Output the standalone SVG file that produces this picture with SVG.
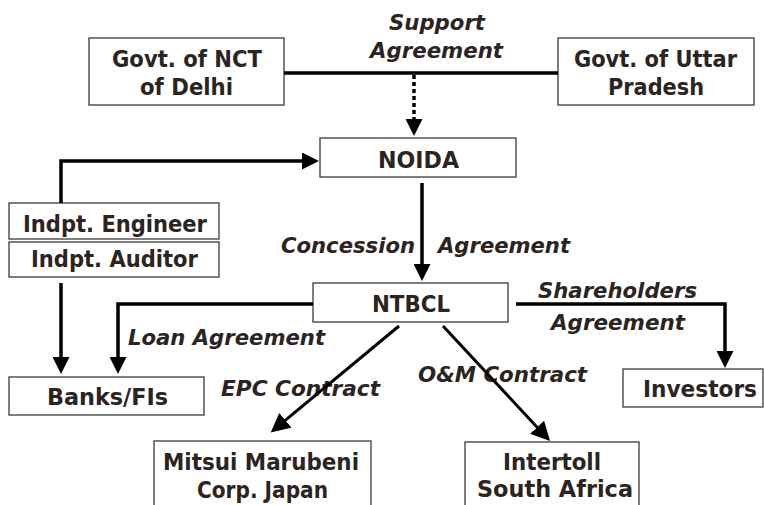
<svg xmlns="http://www.w3.org/2000/svg" width="764" height="505" viewBox="0 0 764 505">
  <style>
    .box { fill: #ffffff; stroke: #3a3a3a; stroke-width: 1.3; }
    .node { font-family: "DejaVu Sans", "Liberation Sans", sans-serif; font-weight: bold; font-size: 23px; fill: #2b2420; }
    .lbl { font-family: "DejaVu Sans", "Liberation Sans", sans-serif; font-weight: bold; font-style: italic; font-size: 21px; fill: #2b2420; }
    .wire { fill: none; stroke: #000000; stroke-width: 3.5; }
    .diag { fill: none; stroke: #000000; stroke-width: 3; }
    .dots { fill: none; stroke: #000000; stroke-width: 3.5; stroke-dasharray: 4 3; }
  </style>
  <defs>
    <marker id="head" viewBox="0 0 17 17" refX="1" refY="8.5" markerWidth="17" markerHeight="17" markerUnits="userSpaceOnUse" orient="auto">
      <path d="M0,0 L17,8.5 L0,17 z" fill="#000000"/>
    </marker>
    <marker id="headLg" viewBox="0 0 19 19" refX="1" refY="9.5" markerWidth="19" markerHeight="19" markerUnits="userSpaceOnUse" orient="auto">
      <path d="M0,0 L19,9.5 L0,19 z" fill="#000000"/>
    </marker>
  </defs>

  <rect width="764" height="505" fill="#ffffff"/>

  <g id="govt-delhi">
    <rect class="box" x="89" y="38" width="195" height="67"/>
    <text class="node" x="112" y="67" textLength="150" lengthAdjust="spacingAndGlyphs">Govt. of NCT</text>
    <text class="node" x="140" y="95" textLength="93" lengthAdjust="spacingAndGlyphs">of Delhi</text>
  </g>

  <g id="govt-up">
    <rect class="box" x="558" y="38" width="196" height="67"/>
    <text class="node" x="574" y="67" textLength="163" lengthAdjust="spacingAndGlyphs">Govt. of Uttar</text>
    <text class="node" x="608" y="95" textLength="96" lengthAdjust="spacingAndGlyphs">Pradesh</text>
  </g>

  <g id="noida">
    <rect class="box" x="320" y="138" width="196" height="39"/>
    <text class="node" x="378" y="168" textLength="81" lengthAdjust="spacingAndGlyphs">NOIDA</text>
  </g>

  <g id="indpt-engineer">
    <rect class="box" x="9" y="203" width="210" height="36"/>
    <text class="node" x="23" y="232" textLength="184" lengthAdjust="spacingAndGlyphs">Indpt. Engineer</text>
  </g>

  <g id="indpt-auditor">
    <rect class="box" x="9" y="242" width="210" height="35"/>
    <text class="node" x="31" y="267" textLength="167" lengthAdjust="spacingAndGlyphs">Indpt. Auditor</text>
  </g>

  <g id="ntbcl">
    <rect class="box" x="313" y="283" width="195" height="39"/>
    <text class="node" x="372" y="312" textLength="78" lengthAdjust="spacingAndGlyphs">NTBCL</text>
  </g>

  <g id="banks">
    <rect class="box" x="9" y="377" width="195" height="38"/>
    <text class="node" x="47" y="405" textLength="121" lengthAdjust="spacingAndGlyphs">Banks/FIs</text>
  </g>

  <g id="investors">
    <rect class="box" x="623" y="369" width="140" height="38"/>
    <text class="node" x="643" y="397" textLength="114" lengthAdjust="spacingAndGlyphs">Investors</text>
  </g>

  <g id="mitsui">
    <rect class="box" x="154" y="441" width="217" height="80"/>
    <text class="node" x="163" y="470" textLength="196" lengthAdjust="spacingAndGlyphs">Mitsui Marubeni</text>
    <text class="node" x="197" y="498" textLength="131" lengthAdjust="spacingAndGlyphs">Corp. Japan</text>
  </g>

  <g id="intertoll">
    <rect class="box" x="465" y="442" width="174" height="80"/>
    <text class="node" x="503" y="470" textLength="98" lengthAdjust="spacingAndGlyphs">Intertoll</text>
    <text class="node" x="477" y="497" textLength="156" lengthAdjust="spacingAndGlyphs">South Africa</text>
  </g>

  <g id="connectors">
    <!-- agreement labels sit under the lines that cross them -->
    <text class="lbl" x="389" y="30" textLength="96" lengthAdjust="spacingAndGlyphs">Support</text>
    <text class="lbl" x="370" y="58" textLength="133" lengthAdjust="spacingAndGlyphs">Agreement</text>
    <text class="lbl" x="281" y="253" textLength="134" lengthAdjust="spacingAndGlyphs">Concession</text>
    <text class="lbl" x="438" y="253" textLength="132" lengthAdjust="spacingAndGlyphs">Agreement</text>
    <text class="lbl" x="538" y="298" textLength="159" lengthAdjust="spacingAndGlyphs">Shareholders</text>
    <text class="lbl" x="551" y="330" textLength="134" lengthAdjust="spacingAndGlyphs">Agreement</text>
    <text class="lbl" x="128" y="345" textLength="197" lengthAdjust="spacingAndGlyphs">Loan Agreement</text>
    <text class="lbl" x="221" y="396" textLength="159" lengthAdjust="spacingAndGlyphs">EPC Contract</text>
    <text class="lbl" x="418" y="382" textLength="169" lengthAdjust="spacingAndGlyphs">O&amp;M Contract</text>

    <!-- support agreement between the two governments, dotted link down to NOIDA -->
    <path class="wire" d="M284,73 H558"/>
    <path class="dots" d="M414,75 V120" marker-end="url(#head)"/>

    <!-- independent engineer reports to NOIDA -->
    <path class="wire" d="M61,203 V161 H303" marker-end="url(#head)"/>

    <!-- concession agreement -->
    <path class="wire" d="M422,183 V265" marker-end="url(#head)"/>

    <!-- auditor and loan agreement to lenders -->
    <path class="wire" d="M61,283 V358" marker-end="url(#head)"/>
    <path class="wire" d="M313,304 H118 V358" marker-end="url(#head)"/>

    <!-- shareholders agreement -->
    <path class="wire" d="M516,304 H725 V352" marker-end="url(#head)"/>

    <!-- contractors -->
    <path class="diag" d="M399,326 L284.6,420.9" marker-end="url(#headLg)"/>
    <path class="diag" d="M443,326 L537.8,427.9" marker-end="url(#headLg)"/>
  </g>
</svg>
